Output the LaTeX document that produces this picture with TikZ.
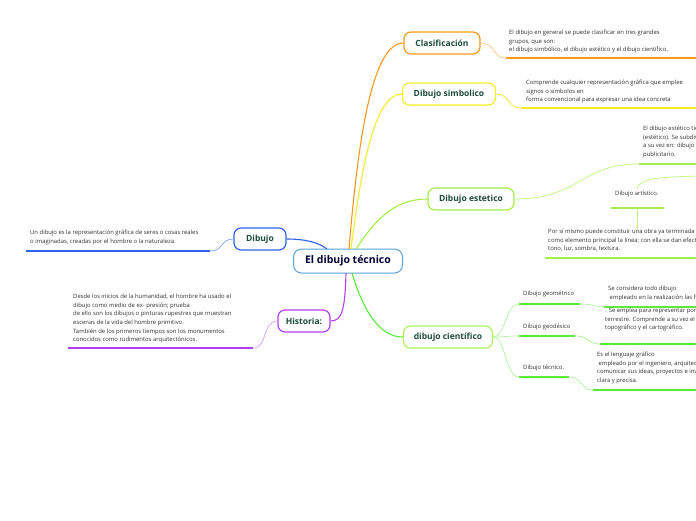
\documentclass[tikz,border=0pt]{standalone}
\usepackage{fontspec}
\setmainfont{Open Sans}
\definecolor{cOrange}{HTML}{FB9A1C}
\definecolor{cYellow}{HTML}{F4EE2A}
\definecolor{cLime}{HTML}{A6EE4A}
\definecolor{cGreen}{HTML}{5CEB3A}
\definecolor{cGreenBox}{HTML}{B2F05C}
\definecolor{cBlue}{HTML}{2F62F0}
\definecolor{cPurple}{HTML}{B040F5}
\definecolor{cCentral}{HTML}{5AA2DA}
\definecolor{cBoxText}{HTML}{1D4B3C}
\definecolor{cText}{HTML}{333333}
\tikzset{
  mbox/.style={draw, rounded corners=7pt, line width=1.2pt, fill=white, minimum height=22pt,
    inner xsep=4pt, text=cBoxText, font=\fontsize{8.5}{10}\selectfont\bfseries},
  cbox/.style={draw=cCentral, rounded corners=8pt, line width=1pt, fill=white, minimum height=24pt,
    minimum width=109pt, text=black!80!blue, font=\fontsize{10.5}{12}\selectfont\bfseries},
  txt/.style={anchor=north west, inner sep=0pt, align=left, text=cText,
    font=\fontsize{5.9}{8.6}\selectfont},
  ul/.style={line width=2pt},
  conn/.style={line width=1.1pt},
  thin/.style={line width=0.7pt},
}
\begin{document}
\begin{tikzpicture}[x=1pt,y=-1pt]
\clip (0,0) rectangle (696,520);
\fill[white] (0,0) rectangle (696,520);

% main nodes
\node[cbox] (c) at (348,261) {El dibujo técnico};
\node[mbox, draw=cOrange, minimum width=76pt] (cla) at (442,43) {Clasificación};
\node[mbox, draw=cYellow, minimum width=93pt] (sim) at (449,94) {Dibujo simbolico};
\node[mbox, draw=cLime, minimum width=86pt] (est) at (471,199) {Dibujo estetico};
\node[mbox, draw=cGreenBox, minimum width=89pt] (cie) at (448,337) {dibujo científico};
\node[mbox, draw=cBlue, minimum width=52pt] (dib) at (260,239) {Dibujo};
\node[mbox, draw=cPurple, minimum width=52pt] (his) at (304,321) {Historia:};

% anchors on the central node
\coordinate (cT1) at (349,249);
\coordinate (cT2) at (351,249);
\coordinate (cT3) at (356,249);
\coordinate (cL) at (327,249);
\coordinate (cB1) at (346,273);
\coordinate (cB2) at (352,273);

% central connectors
\draw[conn, cOrange] (cT1) .. controls (358,140) and (372,43) .. (cla.west);
\draw[conn, cYellow] (cT2) .. controls (362,160) and (376,94) .. (sim.west);
\draw[conn, cLime] (cT3) .. controls (378,215) and (398,199) .. (est.west);
\draw[conn, cGreen] (cB2) .. controls (366,320) and (384,337) .. (cie.west);
\draw[conn, cPurple] (cB1) .. controls (345,310) and (342,321) .. (his.east);
\draw[conn, cBlue] (dib.east) .. controls (304,239) and (318,242) .. (cL);

% Clasificación
\node[txt] (tcla) at (509,30) {El dibujo en general se puede clasificar en tres grandes\\grupos, que son:\\el dibujo simbólico, el dibujo estético y el dibujo científico,};
\coordinate (ucla1) at (506,58); \coordinate (ucla2) at (700,58);
\draw[ul, cOrange] (ucla1) -- (ucla2);
\draw[thin, cOrange!60] (cla.east) .. controls (496,43) and (492,58) .. (ucla1);

% Simbolico
\node[txt] (tsim) at (526,80) {Comprende cualquier representación gráfica que emplee\\signos o símbolos en\\forma convencional para expresar una idea concreta};
\coordinate (usim1) at (521,108); \coordinate (usim2) at (700,108);
\draw[ul, cYellow] (usim1) -- (usim2);
\draw[thin, cYellow] (sim.east) .. controls (510,94) and (507,108) .. (usim1);

% Estetico
\node[txt] (test) at (643,126) {El dibujo estético tiene como fin\\(estético). Se subdivide\\a su vez en: dibujo artístico y\\publicitario.};
\coordinate (uest1) at (639,164); \coordinate (uest2) at (700,164);
\draw[ul, cLime] (uest1) -- (uest2);
\draw[thin, cLime!70] (est.east) .. controls (580,199) and (580,164) .. (uest1);

\node[txt] (tart) at (615,191) {Dibujo artístico.};
\coordinate (uart1) at (611,208); \coordinate (uart2) at (664,208);
\coordinate (uartm) at (637,208);
\coordinate (artTop) at (637,189);
\coordinate (offR) at (700,176);
\draw[ul, cLime] (uart1) -- (uart2);
\draw[thin, cLime!70] (artTop) .. controls (639,180) and (650,177) .. (offR);

\node[txt] (tpor) at (548,229) {Por sí mismo puede constituir una obra ya terminada\\como elemento principal la línea; con ella se dan efectos de\\tono, luz, sombra, textura.};
\coordinate (upor1) at (545,258); \coordinate (upor2) at (700,258);
\coordinate (porTop) at (637,229);
\draw[ul, cLime] (upor1) -- (upor2);
\draw[thin, cLime!70] (uartm) -- (porTop);

% Dibujo
\node[txt] (tdib) at (30,230) {Un dibujo es la representación gráfica de seres o cosas reales\\o imaginadas, creadas por el hombre o la naturaleza.};
\coordinate (udib1) at (26,251); \coordinate (udib2) at (210,251);
\draw[ul, cBlue] (udib1) -- (udib2);
\draw[thin, cBlue!60] (udib2) .. controls (224,251) and (220,239) .. (dib.west);

% Historia
\node[txt] (this) at (73,294) {Desde los inicios de la humanidad, el hombre ha usado el\\dibujo como medio de ex- presión; prueba\\de ello son los dibujos o pinturas rupestres que muestran\\escenas de la vida del hombre primitivo.\\También de los primeros tiempos son los monumentos\\conocidos como rudimentos arquitectónicos.};
\coordinate (uhis1) at (68,348); \coordinate (uhis2) at (253,348);
\draw[ul, cPurple] (uhis1) -- (uhis2);
\draw[thin, cPurple!50] (uhis2) .. controls (268,348) and (262,321) .. (his.west);

% Científico children
\node[txt] (tgeo) at (523,291) {Dibujo geométrico};
\coordinate (ugeo1) at (519,304); \coordinate (ugeo2) at (580,304);
\node[txt] (tgds) at (523,324) {Dibujo geodésico};
\coordinate (ugds1) at (519,336); \coordinate (ugds2) at (575,336);
\node[txt] (ttec) at (523,365) {Dibujo técnico.};
\coordinate (utec1) at (519,377); \coordinate (utec2) at (569,377);
\draw[ul, cGreen] (ugeo1) -- (ugeo2);
\draw[ul, cGreen] (ugds1) -- (ugds2);
\draw[ul, cGreen] (utec1) -- (utec2);
\draw[thin, cGreen!50] (cie.east) .. controls (506,337) and (505,304) .. (ugeo1);
\draw[thin, cGreen!50] (cie.east) .. controls (506,337) and (505,336) .. (ugds1);
\draw[thin, cGreen!50] (cie.east) .. controls (506,337) and (505,377) .. (utec1);

\node[txt] (tgeo2) at (608,286) {Se considera todo dibujo\\\ empleado en la realización las figuras};
\coordinate (ugeoT1) at (604,307); \coordinate (ugeoT2) at (700,307);
\draw[ul, cGreen] (ugeoT1) -- (ugeoT2);
\draw[thin, cGreen!50] (ugeo2) .. controls (594,304) and (592,307) .. (ugeoT1);

\node[txt] (tgds2) at (605,308) {. Se emplea para representar porciones de la superficie\\terrestre. Comprende a su vez el dibujo\\topográfico y el cartográfico.};
\coordinate (ugdsT1) at (600,344); \coordinate (ugdsT2) at (700,344);
\draw[ul, cGreen] (ugdsT1) -- (ugdsT2);
\draw[thin, cGreen!50] (ugds2) .. controls (590,336) and (586,344) .. (ugdsT1);

\node[txt] (ttec2) at (597,352) {Es el lenguaje gráfico\\\ empleado por el ingeniero, arquitecto\\comunicar sus ideas, proyectos e inventos\\clara y precisa.};
\coordinate (utecT1) at (593,390); \coordinate (utecT2) at (700,390);
\draw[ul, cGreen] (utecT1) -- (utecT2);
\draw[thin, cGreen!50] (utec2) .. controls (583,377) and (580,390) .. (utecT1);
\end{tikzpicture}
\end{document}
